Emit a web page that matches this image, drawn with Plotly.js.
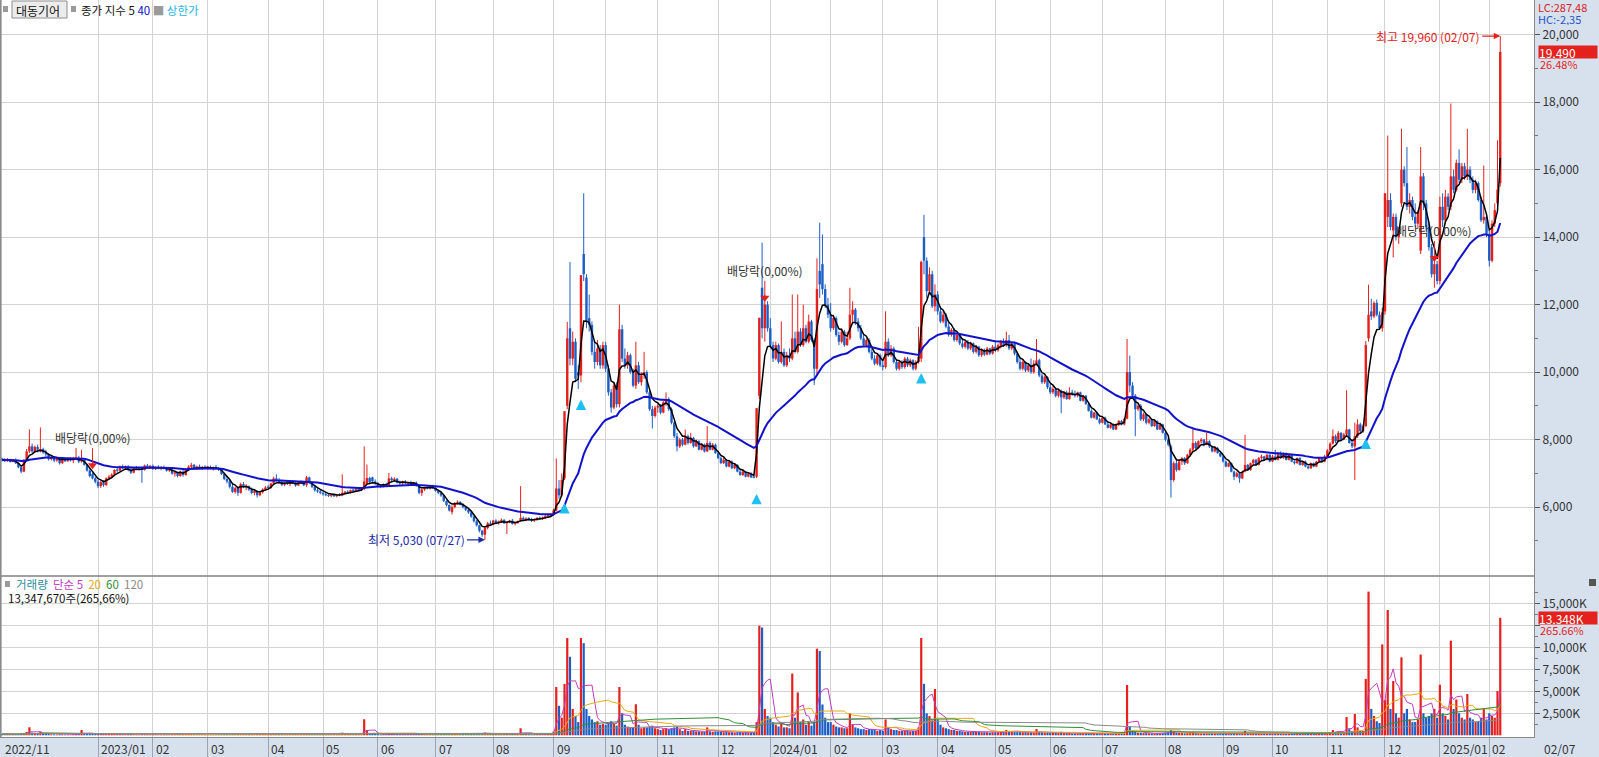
<!DOCTYPE html>
<html><head><meta charset="utf-8">
<script src="https://cdn.plot.ly/plotly-3.0.1.min.js"></script>
<style>html,body{margin:0;padding:0;background:#fff;}#chart{width:1599px;height:757px;}</style>
</head><body><div id="chart"></div>
<script>
// ---- daily data per month: [open, high, low, close, volume(K shares)] ----
const m2022_11=[[7420,7460,7350,7400,150],[7400,7440,7330,7360,120],[7360,7450,7340,7420,130],[7420,7430,7320,7340,110],[7340,7420,7330,7400,100],[7400,7440,7280,7300,140],[7300,7330,7150,7180,160],[7180,7220,7000,7050,200],[7050,7420,7030,7380,260],[7380,7720,7350,7650,380],[7650,8300,7600,7800,910],[7800,7880,7600,7650,300],[7650,7820,7600,7780,220],[7780,7850,7620,7700,200]];
const m2022_12=[[7650,8360,7620,7720,410],[7720,7760,7580,7620,180],[7620,7700,7500,7560,150],[7560,7600,7380,7420,170],[7420,7520,7380,7480,120],[7480,7500,7330,7380,110],[7380,7470,7340,7440,100],[7440,7480,7260,7300,130],[7300,7450,7280,7420,120],[7420,7460,7330,7360,100],[7360,7470,7340,7450,110],[7450,7480,7350,7380,100],[7380,7480,7300,7440,120],[7440,7750,7400,7460,180],[7460,7520,7300,7350,140],[7350,7700,7320,7400,600],[7400,7420,7230,7250,150],[7250,7280,7050,7080,180],[7080,7120,6880,6920,160],[6980,7020,6820,6850,170],[6850,6900,6700,6750,180]];
const m2023_01=[[6750,6800,6560,6620,200],[6620,6780,6570,6740,170],[6740,6800,6600,6650,150],[6650,6880,6630,6850,180],[6850,6950,6800,6900,160],[6900,7000,6850,6960,150],[6960,7120,6920,7100,170],[7100,7180,7020,7080,140],[7080,7230,7060,7200,160],[7200,7260,7120,7150,130],[7150,7230,7100,7210,120],[7210,7240,7060,7100,140],[7100,7200,6980,7020,150],[7020,7180,7000,7160,130],[7160,7220,7100,7130,110],[7130,7190,7080,7170,100],[7170,7200,6720,7100,220],[7100,7260,7080,7230,150],[7230,7280,7160,7180,120],[7180,7250,7140,7220,110]];
const m2023_02=[[7220,7260,7100,7140,130],[7140,7200,7100,7180,110],[7180,7240,7120,7150,120],[7150,7210,7090,7190,100],[7190,7230,7120,7140,110],[7140,7180,7050,7080,120],[7080,7160,7040,7120,100],[7120,7140,6960,6990,150],[6990,7060,6900,7030,140],[7030,7050,6880,6920,150],[6920,7080,6900,7050,130],[7050,7100,6900,6950,120],[6950,7150,6930,7120,140],[7120,7240,7080,7200,160],[7200,7310,7150,7250,180],[7250,7280,7130,7160,120],[7160,7230,7100,7200,110],[7200,7260,7120,7140,100],[7140,7220,7100,7190,110],[7190,7240,7120,7160,100]];
const m2023_03=[[7160,7220,7100,7180,110],[7180,7230,7120,7150,100],[7150,7200,7080,7170,110],[7170,7250,7120,7140,120],[7140,7190,7070,7120,100],[7120,7130,6950,6980,180],[6980,7000,6800,6830,200],[6830,6900,6700,6760,180],[6760,6800,6550,6600,220],[6600,6700,6420,6450,250],[6450,6600,6400,6560,200],[6560,6600,6330,6420,180],[6420,6720,6400,6680,200],[6680,6740,6560,6600,150],[6600,6680,6500,6620,140],[6620,6640,6480,6520,130],[6520,6580,6380,6420,150],[6420,6520,6350,6480,140],[6480,6500,6280,6350,170],[6350,6470,6320,6440,150],[6440,6560,6400,6520,140],[6520,6620,6480,6580,130]];
const m2023_04=[[6580,6650,6520,6570,120],[6570,6720,6540,6700,160],[6700,6900,6680,6850,250],[6850,6970,6760,6800,220],[6800,6860,6700,6750,150],[6750,6790,6620,6660,150],[6660,6740,6620,6720,120],[6720,6780,6650,6700,110],[6700,6760,6620,6740,120],[6740,6800,6680,6720,110],[6720,6780,6600,6640,130],[6640,6750,6620,6730,120],[6730,6790,6680,6760,110],[6760,6780,6620,6650,130],[6650,6920,6600,6880,250],[6880,6900,6680,6720,200],[6720,6750,6560,6600,160],[6600,6640,6460,6500,150],[6500,6560,6420,6460,130],[6460,6520,6380,6420,140]];
const m2023_05=[[6420,6460,6340,6380,120],[6380,6430,6320,6350,110],[6350,6400,6300,6330,100],[6330,6390,6290,6370,100],[6370,6400,6300,6320,100],[6320,6380,6290,6360,90],[6360,6410,6320,6340,90],[6340,6970,6320,6420,300],[6420,6480,6380,6450,120],[6450,6500,6400,6420,110],[6420,6520,6400,6500,120],[6500,6540,6440,6480,100],[6480,6560,6450,6530,110],[6530,6560,6460,6500,100],[6500,6580,6480,6540,110],[6540,7800,6500,6760,1820],[6700,7260,6680,6860,600],[6860,6900,6700,6740,250],[6880,6900,6720,6760,180],[6760,6820,6650,6700,150]];
const m2023_06=[[6700,6740,6580,6620,130],[6620,6680,6560,6600,110],[6600,6700,6580,6680,120],[6680,6720,6600,6630,100],[6630,7010,6620,6850,250],[6850,6900,6760,6800,150],[6800,6880,6760,6840,130],[6840,6860,6700,6720,130],[6720,6780,6640,6700,110],[6700,6780,6660,6760,110],[6760,6800,6680,6700,100],[6700,6760,6620,6740,100],[6740,6780,6660,6680,100],[6680,6740,6640,6720,90],[6720,6760,6600,6630,110],[6630,6660,6380,6420,180],[6420,6560,6330,6520,160],[6520,6600,6480,6580,130],[6580,6640,6520,6560,100],[6560,6640,6520,6620,110],[6620,6660,6540,6570,100]];
const m2023_07=[[6570,6600,6460,6480,120],[6480,6520,6380,6420,130],[6420,6450,6300,6340,140],[6340,6360,6150,6180,180],[6180,6200,6020,6060,200],[6060,6080,5870,5900,220],[5850,6050,5780,6000,200],[6000,6150,5960,6120,180],[6120,6200,6080,6150,150],[6150,6180,6050,6080,140],[6080,6120,5960,6000,150],[6000,6030,5880,5920,150],[5920,5960,5800,5840,160],[5840,5860,5680,5720,180],[5720,5750,5540,5580,200],[5580,5620,5420,5460,220],[5460,5480,5250,5300,240],[5300,5320,5120,5180,260],[5180,5420,5030,5380,300],[5380,5560,5340,5520,220],[5520,5600,5440,5480,180]];
const m2023_08=[[5480,5620,5460,5600,150],[5600,5640,5500,5540,130],[5540,5600,5480,5580,110],[5580,5660,5540,5620,120],[5620,5640,5500,5520,110],[5520,5580,5200,5560,150],[5560,5620,5520,5600,100],[5600,5650,5480,5500,130],[5500,5560,5460,5540,100],[5540,5600,5500,5580,110],[5600,6620,5560,5680,800],[5680,5720,5580,5620,200],[5620,5700,5580,5660,150],[5660,5700,5600,5640,120],[5640,5680,5560,5600,110],[5600,5660,5560,5640,100],[5640,5700,5590,5680,110],[5680,5720,5620,5650,100],[5650,5720,5620,5700,110],[5700,5760,5650,5720,120],[5720,5780,5680,5740,120],[5740,5800,5700,5760,130]];
const m2023_09=[[5760,5950,5740,5900,400],[5900,7440,5880,6550,5490],[6550,6800,6250,6350,3350],[6350,7000,6300,6800,2000],[6850,8840,6800,8840,5840],[9000,11490,8900,11000,11050],[11300,13260,10200,10400,8920],[10400,11200,10200,10900,3000],[10900,11000,9700,9800,2200],[10000,10200,9500,9900,1500],[9900,12870,9700,12870,11050],[13500,15300,12700,12900,10470],[12800,12900,11300,11500,3000],[11600,12300,11200,11400,2200],[11400,11500,10500,10600,1800],[10600,10900,10100,10300,1500],[10300,10950,10200,10700,1600],[10700,10800,10100,10200,1200],[10200,10900,10100,10800,1300]];
const m2023_10=[[10800,10900,10000,10100,1200],[10100,10200,9300,9400,1400],[9400,9500,8800,8950,1600],[8950,9700,8900,9600,1300],[9600,9700,8950,9050,1100],[9050,12000,8950,11270,5490],[11270,11400,10300,10400,2500],[10400,10700,10100,10200,1200],[10200,10600,10100,10500,1000],[10500,10550,9950,10000,900],[10000,10100,9550,9600,900],[9600,10900,9500,10200,3530],[10200,10300,9650,9700,1200],[9700,10000,9600,9900,800],[9900,10600,9800,10000,900],[10000,10050,9350,9400,900],[9400,9450,8850,8900,1000],[8900,9000,8330,8700,1100],[8700,9000,8650,8950,800]];
const m2023_11=[[8950,9100,8800,9000,700],[9000,9050,8750,8800,600],[8800,9150,8780,9100,700],[9100,9400,9000,9200,800],[9200,9250,8850,8900,700],[8900,8950,8450,8500,800],[8500,8550,8050,8100,900],[8100,8200,7650,7800,1000],[7800,8050,7750,8000,700],[8000,8050,7800,7850,500],[7850,8300,7830,8100,700],[8100,8150,7850,7900,500],[7900,8200,7880,8050,500],[8050,8080,7760,7800,500],[7800,8000,7780,7950,450],[7950,7980,7680,7700,450],[7700,7900,7680,7850,400],[7850,7880,7620,7650,400],[7650,8400,7630,7900,900],[7900,7950,7680,7700,450],[7700,7900,7680,7850,400],[7850,7880,7580,7600,450]];
const m2023_12=[[7600,7650,7420,7450,450],[7450,7500,7280,7300,400],[7300,7450,7280,7400,350],[7400,7420,7180,7200,400],[7200,7380,7180,7350,350],[7350,7380,7120,7150,350],[7150,7280,7120,7250,300],[7250,7270,7030,7050,350],[7050,7100,6930,6950,400],[6950,7080,6920,7050,300],[7050,7070,6880,6900,350],[6900,7020,6880,7000,300],[7000,7030,6860,6880,300],[6880,6990,6850,6870,350],[6900,8930,6860,8930,1500],[9300,11610,9200,11610,12450],[12500,13840,11000,11300,12250],[11300,12300,10900,12000,3000],[12000,12100,11200,11300,2200]];
const m2024_01=[[11300,11600,10700,10800,2000],[10800,10900,10300,10400,1500],[10400,10900,10350,10800,1200],[10800,10850,10250,10300,1000],[10300,11500,10250,10600,1500],[10600,10700,10150,10200,900],[10200,10600,10150,10500,900],[10500,10700,10300,10400,800],[10400,12300,10350,11000,7020],[11000,11200,10550,10600,2000],[10600,12300,10550,11200,4870],[11200,11300,10750,10800,1500],[10800,12000,10750,11300,1800],[11300,11400,10850,10900,1200],[10900,11700,10850,11500,1500],[11500,11550,10900,10950,1100],[10950,11000,9620,10100,1500],[10100,13370,9900,12460,9840],[13000,14430,12200,12600,9580],[13200,14080,12300,12460,3500],[12460,12600,11900,12000,2000],[12000,12200,11600,11700,1500]];
const m2024_02=[[11700,12050,11200,11300,1500],[11300,11700,11250,11600,1200],[11600,11650,11050,11100,1000],[11100,11200,10800,10900,900],[10900,11300,10850,11200,900],[11200,11250,10750,10800,800],[10800,11200,10780,11000,800],[11000,12500,10950,11700,2500],[11700,12100,11500,11850,1200],[11850,11900,11400,11500,900],[11500,11600,11200,11300,800],[11300,11400,10950,11000,700],[11000,11100,10750,10800,700],[10800,11000,10750,10950,600],[10950,11000,10550,10600,700],[10600,10700,10350,10400,700],[10400,10500,10200,10250,600],[10250,10550,10200,10500,500],[10500,10550,10150,10200,600]];
const m2024_03=[[10200,10300,10050,10150,500],[10150,11800,10100,10900,1800],[10900,11000,10450,10500,900],[10500,10800,10450,10700,700],[10700,10750,10250,10300,600],[10300,10350,10050,10100,600],[10100,10350,10050,10300,500],[10300,10350,10100,10150,500],[10150,10450,10100,10400,500],[10400,10450,10150,10200,500],[10200,10400,10150,10350,450],[10350,10380,10050,10100,500],[10100,10350,10050,10300,500],[10300,11340,10250,10450,900],[10400,13300,10300,13270,11060],[14000,14660,12900,13300,5850],[13300,13400,12200,12400,2500],[12400,13100,12300,12900,2200],[12900,13000,11900,11950,1800],[11950,12600,11800,12300,5260]];
const m2024_04=[[12300,12400,11700,11800,1800],[11800,11950,11450,11500,1200],[11500,11800,11450,11700,900],[11700,11750,11300,11350,800],[11350,11450,11050,11100,700],[11100,11300,11050,11250,600],[11250,11300,10900,10950,600],[10950,11150,10900,11100,500],[11100,11150,10800,10850,500],[10850,11000,10700,10750,450],[10750,10950,10700,10900,400],[10900,10950,10650,10700,400],[10700,10900,10650,10850,400],[10850,10880,10550,10600,450],[10600,10800,10550,10750,400],[10750,10780,10450,10500,400],[10500,10700,10450,10650,350],[10650,10700,10480,10520,350],[10520,10750,10500,10700,350],[10700,10720,10500,10550,300],[10550,10800,10520,10750,350]];
const m2024_05=[[10750,10900,10600,10650,350],[10650,10850,10600,10800,350],[10800,10950,10700,10900,400],[10900,11000,10750,10800,400],[10800,11200,10750,10950,600],[10950,11100,10650,10700,500],[10700,10900,10650,10850,400],[10850,10900,10500,10550,450],[10550,10600,10250,10300,450],[10300,10400,10050,10100,400],[10100,10350,10050,10300,350],[10300,10320,10000,10050,400],[10050,10250,10000,10200,350],[10200,10400,9950,10000,350],[10000,10350,9950,10250,300],[10250,10980,10200,10350,720],[10350,10400,9850,9900,400],[9900,9950,9650,9700,350],[9700,9900,9650,9850,300],[9850,9880,9500,9550,350]];
const m2024_06=[[9550,9650,9350,9400,300],[9400,9600,9350,9500,280],[9500,9550,9250,9300,280],[9300,9480,9250,9450,250],[9450,9480,8780,9250,400],[9250,9420,9200,9400,250],[9400,9450,9180,9200,250],[9200,9550,9180,9400,300],[9400,9480,9300,9350,200],[9350,9450,9250,9300,200],[9300,9420,9250,9400,200],[9400,9420,9130,9150,220],[9150,9320,9120,9300,200],[9300,9320,9030,9050,220],[9050,9100,8830,8850,250],[8850,8900,8630,8650,250],[8650,8820,8620,8800,200],[8800,8830,8580,8600,220],[8600,8650,8450,8500,230]];
const m2024_07=[[8500,8700,8480,8650,250],[8650,8680,8430,8450,220],[8450,8500,8330,8350,220],[8350,8480,8320,8450,200],[8450,8480,8280,8300,200],[8300,8480,8280,8450,200],[8450,8580,8400,8550,220],[8550,8580,8420,8450,200],[8450,8650,8420,8620,300],[8620,10980,8600,10000,5720],[10000,10490,9400,9600,980],[9600,9700,9250,9300,500],[9300,9350,8100,8900,450],[8900,9050,8850,9000,300],[9000,9050,8550,8600,300],[8600,8800,8550,8750,250],[8750,8780,8450,8500,250],[8500,8650,8450,8600,220],[8600,8620,8380,8400,220],[8400,8580,8380,8550,200],[8550,8570,8280,8300,220],[8300,8480,8280,8450,200],[8450,8470,8180,8200,230]];
const m2024_08=[[8200,8250,7950,8000,300],[8000,8050,7800,7850,350],[7800,7850,6280,6800,600],[6800,7350,6750,7300,450],[7300,7400,7050,7100,300],[7100,7400,7080,7350,280],[7350,7480,7250,7450,250],[7450,7480,7250,7300,220],[7300,7580,7280,7550,250],[7550,7750,7500,7700,250],[7700,8330,7650,7900,400],[7900,7950,7700,7750,250],[7750,7980,7720,7950,220],[7950,8050,7880,8000,200],[8000,8020,7800,7850,200],[7850,8200,7830,7950,220],[7950,7980,7750,7800,200],[7800,7820,7620,7650,200],[7650,7800,7620,7750,180],[7750,7780,7580,7600,180],[7600,7650,7480,7500,200]];
const m2024_09=[[7500,7550,7320,7350,200],[7350,7380,7180,7200,200],[7200,7320,7180,7300,180],[7300,7320,7030,7050,220],[7050,7080,6800,6900,250],[6900,7050,6880,7000,200],[7000,7020,6720,6850,250],[6850,7080,6830,7050,220],[7050,8140,7030,7250,500],[7250,7280,7080,7100,220],[7100,7320,7080,7300,200],[7300,7420,7250,7400,200],[7400,7430,7220,7250,180],[7250,7480,7230,7450,200],[7450,7550,7400,7500,200],[7500,7520,7380,7400,180],[7400,7580,7380,7550,180],[7550,7570,7330,7350,180]];
const m2024_10=[[7350,7550,7330,7500,180],[7500,7700,7380,7400,200],[7400,7620,7380,7600,180],[7600,7650,7430,7450,180],[7450,7620,7430,7600,170],[7600,7620,7380,7400,170],[7400,7570,7380,7550,160],[7550,7580,7330,7350,170],[7350,7380,7260,7300,160],[7300,7470,7280,7450,150],[7450,7480,7230,7250,160],[7250,7370,7220,7350,150],[7350,7380,7180,7200,160],[7200,7230,7120,7150,170],[7150,7320,7130,7300,150],[7300,7320,7180,7200,150],[7200,7370,7180,7350,160],[7350,7480,7330,7450,170],[7450,7480,7330,7350,160],[7350,7550,7330,7500,200]];
const m2024_11=[[7500,7720,7480,7680,250],[7680,7920,7650,7880,350],[7880,8300,7850,8100,600],[8100,8150,7900,7950,400],[7950,8250,7930,8200,450],[8200,8220,7980,8000,350],[8000,8200,7980,8150,300],[8150,9460,8100,8300,2080],[8300,8320,7880,7900,700],[7900,7950,7750,7800,500],[7800,8500,6800,8100,2420],[8100,8600,8050,8450,900],[8450,8500,8200,8250,500],[8250,8450,8200,8400,500],[8400,10920,8380,10800,6410],[11000,12590,10900,11700,16330],[11800,12170,11550,11650,3000],[11650,12100,11600,12050,2200],[12050,12150,11650,11700,1600],[11700,11800,11250,11300,1400],[11300,11900,11200,11770,10330]];
const m2024_12=[[11800,15300,11700,15300,4000],[14600,17010,14300,15100,14240],[15100,15300,14200,14300,3000],[14200,14700,13400,14600,6170],[14600,14700,13900,14000,2500],[14000,14300,13800,14200,2000],[15000,17210,14900,16000,8860],[16000,16100,15500,15600,2500],[15600,16670,14800,14900,3000],[14900,15300,14700,15100,1800],[15100,15200,14500,14600,1500],[14600,15000,14300,14400,1500],[14400,14800,14250,14700,1800],[13600,16670,13500,15800,9180],[15800,15900,14800,15000,2500],[15000,15100,14200,14300,2000],[14300,14400,13600,13700,2200],[13700,13800,12800,12900,2500],[12900,13380,12500,13200,3000],[13200,13300,12600,12700,2000]];
const m2025_01=[[12700,15200,12600,14900,5740],[14900,15300,14300,14500,2500],[14500,15400,14400,15200,2200],[15200,15300,14800,14900,1800],[14900,17960,14800,15800,10750],[15800,16000,15300,15400,3000],[15400,16300,15350,16200,4070],[16200,16600,15600,15700,2500],[15700,16200,15600,16100,2000],[16100,16200,15700,15800,1800],[15800,17210,15700,16000,4690],[16000,16100,15600,15700,2000],[15700,15800,15300,15400,1800],[15400,15700,15300,15600,1500],[15600,15650,15050,15100,1600],[15100,15200,14450,14500,2000],[14500,16120,14400,14600,3020],[14600,14700,14000,14100,1800]];
const m2025_02=[[14100,14200,13130,13300,2500],[13300,14500,13250,14400,2200],[14400,15000,14300,14800,2000],[15000,16870,14900,15410,5024],[15600,19960,15500,19490,13348]];

const monthData=[m2022_11,m2022_12,m2023_01,m2023_02,m2023_03,m2023_04,m2023_05,m2023_06,m2023_07,m2023_08,m2023_09,m2023_10,m2023_11,m2023_12,m2024_01,m2024_02,m2024_03,m2024_04,m2024_05,m2024_06,m2024_07,m2024_08,m2024_09,m2024_10,m2024_11,m2024_12,m2025_01,m2025_02];
const monthLabels=['2022/11','','2023/01','02','03','04','05','06','07','08','09','10','11','12','2024/01','02','03','04','05','06','07','08','09','10','11','12','2025/01','02'];

// markers
const limitUpIdx=[205,211,275,335,497];
const limitUpMark=[6120,9185,6390,9970,8030];
const divIdx=[33,278,522];
const divMark=[7240,12200,13380];
const divText='배당락(0,00%)';
const hiText='최고 19,960 (02/07)';
const loText='최저 5,030 (07/27)';
const priceTicks=[6000,8000,10000,12000,14000,16000,18000,20000];
const volTicks=[2500,5000,7500,10000,12500,15000];
const volTickText=['2,500K','5,000K','7,500K','10,000K','','15,000K'];
const volCaption='13,347,670주(265,66%)';
const volPct='265,66%';
const lcText='LC:287,48', hcText='HC:-2,35';
const lastDate='02/07';

// ---- build series ----
const O=[],H=[],L=[],C=[],V=[],X=[],monthStart=[];
monthData.forEach(m=>{monthStart.push(X.length);m.forEach(d=>{X.push(X.length);O.push(d[0]);H.push(d[1]);L.push(d[2]);C.push(d[3]);V.push(d[4]);});});
function ema(s,n){const k=2/(n+1);let e=s[0];return s.map((v,i)=>{e=i?e+k*(v-e):v;return e;});}
function sma(s,n){let t=0;return s.map((v,i)=>{t+=v;if(i>=n)t-=s[i-n];return t/Math.min(i+1,n);});}
const RED='#e4211c', BLUE='#1d5ec6';
const up=X.map(i=>C[i]>=O[i]);

const W=1599,Hh=757,PW=1534;
const px=x=>x/PW, py=y=>(Hh-y)/Hh;

const traces=[];
// wicks
[[true,RED],[false,BLUE]].forEach(([u,col])=>{
  const wx=[],wy=[];
  X.forEach(i=>{if(up[i]===u){wx.push(i,i,null);wy.push(L[i],H[i],null);}});
  traces.push({type:'scatter',mode:'lines',x:wx,y:wy,line:{color:col,width:1},xaxis:'x',yaxis:'y',hoverinfo:'skip'});
});
// bodies
traces.push({type:'bar',x:X,base:X.map(i=>Math.min(O[i],C[i])),y:X.map(i=>Math.max(Math.abs(C[i]-O[i]),35)),width:0.88,
  marker:{color:up.map(u=>u?RED:BLUE),line:{width:0}},xaxis:'x',yaxis:'y',hoverinfo:'skip'});
traces.push({type:'scatter',mode:'lines',x:X,y:ema(C,5),line:{color:'#000000',width:1.5},xaxis:'x',yaxis:'y',hoverinfo:'skip'});
traces.push({type:'scatter',mode:'lines',x:X,y:ema(C,40),line:{color:'#1212cc',width:2},xaxis:'x',yaxis:'y',hoverinfo:'skip'});
traces.push({type:'scatter',mode:'markers',x:divIdx,y:divMark,marker:{symbol:'triangle-down',size:8,color:RED},xaxis:'x',yaxis:'y',hoverinfo:'skip'});
traces.push({type:'bar',x:X,y:V,width:0.8,marker:{color:up.map(u=>u?RED:BLUE),line:{width:0}},xaxis:'x',yaxis:'y2',hoverinfo:'skip'});
[[5,'#c23cc2'],[20,'#e8aa10'],[60,'#2f8f3a'],[120,'#8a8a8a']].forEach(([n,c])=>{
  traces.push({type:'scatter',mode:'lines',x:X,y:sma(V,n),line:{color:c,width:1},xaxis:'x',yaxis:'y2',hoverinfo:'skip'});
});

// ---- ticks / grid ----
const gridIdx=[],annots=[];
monthLabels.forEach((lab,i)=>{
  if(!lab)return;
  if(monthStart[i]>0)gridIdx.push(monthStart[i]);
  annots.push({x:monthStart[i],xref:'x',y:py(748),yref:'paper',text:lab,showarrow:false,xanchor:'left',yanchor:'middle',xshift:1,font:{size:12,color:'#333'}});
});
const fmt=n=>n.toLocaleString('en-US');
const minor=[];for(let v=5000;v<=20000;v+=1000)if(v%2000)minor.push(v);
const vminor=[];for(let v=1250;v<=17500;v+=2500)vminor.push(v);

// upper-limit arrows (상한가)
limitUpIdx.forEach((d,i)=>annots.push({x:d,y:limitUpMark[i],xref:'x',yref:'y',text:'',showarrow:true,arrowhead:2,arrowsize:0.8,arrowwidth:2.6,arrowcolor:'#1ec0f2',ax:0,ay:8,standoff:0}));
// dividend labels
divIdx.forEach((d,i)=>annots.push({x:d,y:divMark[i],xref:'x',yref:'y',text:divText,showarrow:true,arrowhead:0,arrowwidth:1,arrowcolor:RED,ax:0,ay:-17,yanchor:'bottom',font:{size:12,color:'#333'}}));
// extremes
let hiI=0,loI=0;H.forEach((v,i)=>{if(v>H[hiI])hiI=i;});L.forEach((v,i)=>{if(v<L[loI])loI=i;});
annots.push({x:hiI,y:H[hiI],xref:'x',yref:'y',text:hiText,showarrow:true,arrowhead:2,arrowsize:1,arrowwidth:1.3,arrowcolor:RED,ax:-18,ay:0,xanchor:'right',font:{size:12,color:RED}});
annots.push({x:loI,y:L[loI],xref:'x',yref:'y',text:loText,showarrow:true,arrowhead:2,arrowsize:1,arrowwidth:1.3,arrowcolor:'#1a2aa8',ax:-18,ay:0,xanchor:'right',font:{size:12,color:'#1a2aa8'}});

// right panel boxes
const last=C.length-1;
const pct=((C[last]/C[last-1]-1)*100).toFixed(2).replace('.',',')+'%';
annots.push({x:px(1538),xref:'paper',y:C[last],yref:'y',text:fmt(C[last]),showarrow:false,xanchor:'left',yanchor:'middle',bgcolor:RED,width:58,height:12,align:'left',borderpad:0,font:{size:12,color:'#fff'}});
annots.push({x:px(1538),xref:'paper',y:C[last],yref:'y',yshift:-12,text:pct,showarrow:false,xanchor:'left',yanchor:'middle',height:11,font:{size:11,color:RED}});
annots.push({x:px(1538),xref:'paper',y:V[last],yref:'y2',text:fmt(V[last])+'K',showarrow:false,xanchor:'left',yanchor:'middle',bgcolor:RED,width:58,height:12,align:'left',borderpad:0,font:{size:12,color:'#fff'}});
annots.push({x:px(1538),xref:'paper',y:V[last],yref:'y2',yshift:-12,text:volPct,showarrow:false,xanchor:'left',yanchor:'middle',height:11,font:{size:11,color:RED}});
annots.push({x:px(1536),xref:'paper',y:py(7),yref:'paper',text:lcText,showarrow:false,xanchor:'left',yanchor:'middle',height:12,font:{size:11,color:'#d8231f'}});
annots.push({x:px(1536),xref:'paper',y:py(19),yref:'paper',text:hcText,showarrow:false,xanchor:'left',yanchor:'middle',height:12,font:{size:11,color:'#2455c4'}});
annots.push({x:px(1542),xref:'paper',y:py(748),yref:'paper',text:lastDate,showarrow:false,xanchor:'left',yanchor:'middle',font:{size:12,color:'#333'}});

// top legends
const T=(x,y,t,c,sz)=>annots.push({x:px(x),xref:'paper',y:py(y),yref:'paper',text:t,showarrow:false,xanchor:'left',yanchor:'middle',font:{size:sz||11.5,color:c}});
T(14,10,'대동기어','#111',12);
T(79,10,'종가 지수 5 <span style="color:#1212cc">40</span> <span style="color:#9a9a9a">■</span> <span style="color:#1ab4ea">상한가</span>','#111');
T(14,584,'<span style="color:#2e8c9c">거래량</span>  <span style="color:#c23cc2">단순 5</span>  <span style="color:#e0a810">20</span>  <span style="color:#2f8f3a">60</span>  <span style="color:#888">120</span>','#111');
T(6,598,volCaption,'#111');

const shapes=[];
const R=(x0,y0,x1,y1,fill,line)=>shapes.push({type:'rect',xref:'paper',yref:'paper',x0:px(x0),x1:px(x1),y0:py(y1),y1:py(y0),fillcolor:fill,line:{color:line||fill,width:line?1:0},layer:'above'});
R(3,6,8,12,'#9a9a9a');
R(12,1,67,18,'#ececec','#8f8f8f');
R(71,6,76,12,'#9a9a9a');
R(5,581,10,587,'#9a9a9a');
R(1589,579,1596,586,'#555');
shapes.push({type:'line',xref:'paper',yref:'paper',x0:0,x1:1,y0:py(576),y1:py(576),line:{color:'#808080',width:1.5},layer:'above'});
shapes.push({type:'line',xref:'paper',yref:'paper',x0:px(0.8),x1:px(0.8),y0:py(737),y1:1,line:{color:'#8a8a8a',width:1.6},layer:'above'});

const ax={showgrid:true,gridcolor:'#d3d3d3',gridwidth:1,zeroline:false,fixedrange:true};
const layout={
  width:W,height:Hh,margin:{l:0,r:W-PW,t:0,b:0},showlegend:false,barmode:'overlay',
  paper_bgcolor:'#d7e1ee',plot_bgcolor:'#ffffff',
  font:{family:'"Noto Sans CJK KR", "Noto Sans", sans-serif',size:12,color:'#333'},
  xaxis:Object.assign({},ax,{domain:[0,1],range:[-0.714,558.3],anchor:'y2',tickmode:'array',tickvals:gridIdx,showticklabels:false,
    ticks:'outside',ticklen:20,tickcolor:'#9aa4b4',tickwidth:1,showline:true,linecolor:'#8a8a8a',linewidth:1}),
  yaxis:Object.assign({},ax,{domain:[py(576),1],range:[3957,21028],side:'right',anchor:'x',tickmode:'array',tickvals:priceTicks,tickformat:',d',
    ticks:'outside',ticklen:5,tickcolor:'#555',tickfont:{size:12,color:'#333'},showline:true,linecolor:'#8a8a8a',
    minor:{tickmode:'array',tickvals:minor,ticks:'outside',ticklen:3,tickcolor:'#777',showgrid:false}}),
  yaxis2:Object.assign({},ax,{domain:[py(737),py(576)],range:[-193,18102],side:'right',anchor:'x',tickmode:'array',tickvals:volTicks,ticktext:volTickText,
    ticks:'outside',ticklen:5,tickcolor:'#555',tickfont:{size:12,color:'#333'},showline:true,linecolor:'#8a8a8a',
    minor:{tickmode:'array',tickvals:vminor,ticks:'outside',ticklen:3,tickcolor:'#777',showgrid:false}}),
  annotations:annots,shapes:shapes
};
Plotly.newPlot('chart',traces,layout,{staticPlot:true,displayModeBar:false});
</script></body></html>
